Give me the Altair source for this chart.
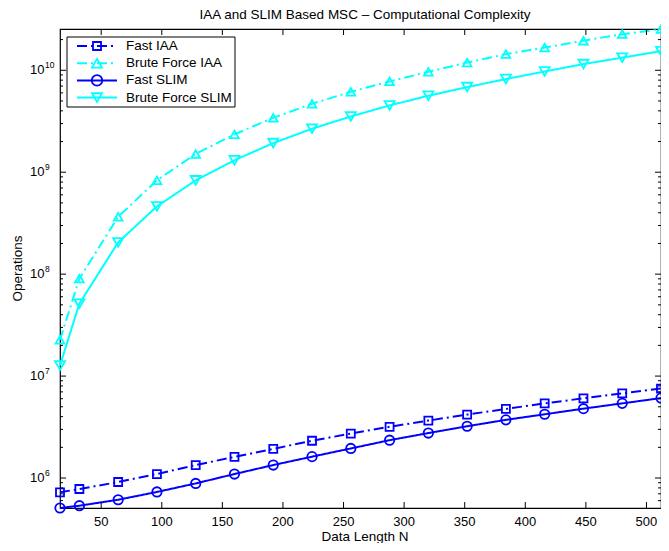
import altair as alt
import pandas as pd
import numpy as np

# ---------------- data ----------------
N = [16, 32, 64, 96, 128, 160, 192, 224, 256, 288, 320, 352, 384, 416, 448, 480, 512]

fast_iaa = [7.24e5, 7.8e5, 9.14e5, 1.094e6, 1.34e6, 1.61e6, 1.93e6, 2.32e6, 2.73e6,
            3.18e6, 3.66e6, 4.19e6, 4.76e6, 5.4e6, 6.05e6, 6.78e6, 7.54e6]
brute_iaa = [2.27e7, 9.04e7, 3.65e8, 8.32e8, 1.51e9, 2.35e9, 3.42e9, 4.69e9, 6.15e9,
             7.77e9, 9.66e9, 1.19e10, 1.44e10, 1.67e10, 1.95e10, 2.26e10, 2.53e10]
fast_slim = [5.08e5, 5.35e5, 6.12e5, 7.3e5, 8.85e5, 1.094e6, 1.34e6, 1.62e6, 1.95e6,
             2.35e6, 2.76e6, 3.22e6, 3.72e6, 4.22e6, 4.79e6, 5.4e6, 6.08e6]
brute_slim = [1.27e7, 5.14e7, 2.05e8, 4.62e8, 8.32e8, 1.31e9, 1.93e9, 2.67e9, 3.52e9,
              4.52e9, 5.62e9, 6.84e9, 8.2e9, 9.73e9, 1.15e10, 1.33e10, 1.54e10]

series_names = ["Fast IAA", "Brute Force IAA", "Fast SLIM", "Brute Force SLIM"]
series_values = [fast_iaa, brute_iaa, fast_slim, brute_slim]

x_ticks = [50, 100, 150, 200, 250, 300, 350, 400, 450, 500]
y_major = [1e6, 1e7, 1e8, 1e9, 1e10]
y_minor = [m * 10.0 ** e for e in range(5, 11) for m in range(2, 10)]

x_domain = [16, 512]
y_domain = [5.08e5, 2.54e10]

title_text = "IAA and SLIM Based MSC – Computational Complexity"
x_title = "Data Length N"
y_title = "Operations"

# ---------------- styles ----------------
colors = ["#0000ff", "#00ffff", "#0000ff", "#00ffff"]
dashes = [[10, 4, 2, 4], [10, 4, 2, 4], [1, 0], [1, 0]]
shapes = ["square", "triangle-up", "circle", "triangle-down"]
sizes = [64, 100, 110, 100]
FONT = "Liberation Sans"
PAD_L, PAD_T = 52, 21
W, H = 601, 479
CX = 365 - 8 - PAD_L  # horizontal centre of titles (page x = 365)

y_minor = [v for v in y_minor if y_domain[0] <= v <= y_domain[1] and v not in y_major]

rows = []
for name, vals in zip(series_names, series_values):
    for n, v in zip(N, vals):
        rows.append({"N": n, "ops": v, "series": name})
df = pd.DataFrame(rows)

xscale = alt.Scale(domain=x_domain, nice=False, zero=False)
yscale = alt.Scale(type="log", domain=y_domain, nice=False)

color_enc = alt.Color("series:N", scale=alt.Scale(domain=series_names, range=colors), legend=None)

lines = alt.Chart(df).mark_line(strokeWidth=2).encode(
    x=alt.X("N:Q", scale=xscale, axis=None),
    y=alt.Y("ops:Q", scale=yscale, axis=None),
    color=color_enc,
    strokeDash=alt.StrokeDash("series:N", scale=alt.Scale(domain=series_names, range=dashes), legend=None),
    detail="series:N",
)

points = alt.Chart(df).mark_point(filled=False, strokeWidth=1.8, opacity=1).encode(
    x=alt.X("N:Q", scale=xscale, axis=None),
    y=alt.Y("ops:Q", scale=yscale, axis=None),
    color=color_enc,
    shape=alt.Shape("series:N", scale=alt.Scale(domain=series_names, range=shapes), legend=None),
    size=alt.Size("series:N", scale=alt.Scale(domain=series_names, range=sizes), legend=None),
)

xt = pd.DataFrame({"t": x_ticks, "lab": [str(v) for v in x_ticks]})
ymaj = pd.DataFrame({"v": y_major, "base": ["10"] * len(y_major),
                     "exp": [str(int(round(np.log10(v)))) for v in y_major]})
ymin = pd.DataFrame({"v": y_minor})

# inward ticks on all four sides
tick_layers = []
for y0, y1 in [(H, H - 6), (0, 6)]:
    tick_layers.append(alt.Chart(xt).mark_rule(color="black", strokeWidth=1).encode(
        x=alt.X("t:Q", scale=xscale, axis=None), y=alt.value(y0), y2=alt.value(y1)))
for d, ln in [(ymaj, 6), (ymin, 3)]:
    for x0, sgn in [(0, 1), (W, -1)]:
        tick_layers.append(alt.Chart(d).mark_rule(color="black", strokeWidth=1).encode(
            y=alt.Y("v:Q", scale=yscale, axis=None), x=alt.value(x0), x2=alt.value(x0 + sgn * ln)))

# tick labels
xlab = alt.Chart(xt).mark_text(align="center", baseline="middle", fontSize=13, font=FONT,
                               color="black").encode(
    x=alt.X("t:Q", scale=xscale, axis=None), y=alt.value(H + 14), text="lab:N")
ylab_base = alt.Chart(ymaj).mark_text(align="right", baseline="middle", fontSize=13, font=FONT,
                                      color="black").encode(
    y=alt.Y("v:Q", scale=yscale, axis=None), x=alt.value(-15.5), text="base:N")
ylab_exp = alt.Chart(ymaj).mark_text(align="left", baseline="middle", fontSize=8.5, font=FONT,
                                     color="black", dy=-5.5).encode(
    y=alt.Y("v:Q", scale=yscale, axis=None), x=alt.value(-15), text="exp:N")

# titles
texts = pd.DataFrame({"t": [title_text, x_title, y_title]})
title_mark = alt.Chart(texts.iloc[[0]]).mark_text(
    align="center", baseline="middle", fontSize=13.5, font=FONT, color="black").encode(
    x=alt.value(CX), y=alt.value(-14), text="t:N")
xtitle = alt.Chart(texts.iloc[[1]]).mark_text(
    align="center", baseline="middle", fontSize=13.5, font=FONT, color="black").encode(
    x=alt.value(CX), y=alt.value(H + 29), text="t:N")
ytitle = alt.Chart(texts.iloc[[2]]).mark_text(
    angle=270, align="center", baseline="middle", fontSize=13.5, font=FONT, color="black").encode(
    x=alt.value(-42), y=alt.value(H / 2), text="t:N")

# ---------------- legend (drawn manually, MATLAB style) ----------------
one = pd.DataFrame({"k": [0]})
legend_layers = [alt.Chart(one).mark_rect(fill="white", stroke="black", strokeWidth=1).encode(
    x=alt.value(7), x2=alt.value(175), y=alt.value(8), y2=alt.value(78))]
for i, name in enumerate(series_names):
    yy = 17 + 17.2 * i
    legend_layers.append(alt.Chart(one).mark_rule(color=colors[i], strokeWidth=2,
                                                  strokeDash=dashes[i]).encode(
        x=alt.value(17), x2=alt.value(57), y=alt.value(yy)))
    legend_layers.append(alt.Chart(one).mark_point(shape=shapes[i], filled=False, color=colors[i],
                                                   size=sizes[i], strokeWidth=1.8, opacity=1).encode(
        x=alt.value(37), y=alt.value(yy)))
    legend_layers.append(alt.Chart(pd.DataFrame({"t": [name]})).mark_text(
        align="left", baseline="middle", fontSize=13.5, font=FONT, color="black").encode(
        x=alt.value(66), y=alt.value(yy), text="t:N"))

chart = alt.layer(
    lines, points, *tick_layers, xlab, ylab_base, ylab_exp, title_mark, xtitle, ytitle,
    *legend_layers
).properties(
    width=W, height=H,
    autosize=alt.AutoSizeParams(type="none"),
    padding={"left": PAD_L, "top": PAD_T, "right": 0, "bottom": 35},
    background="white",
).configure_view(stroke="black", strokeWidth=1.2)

chart.save("out.html", embed_options={"renderer": "svg", "actions": False})
